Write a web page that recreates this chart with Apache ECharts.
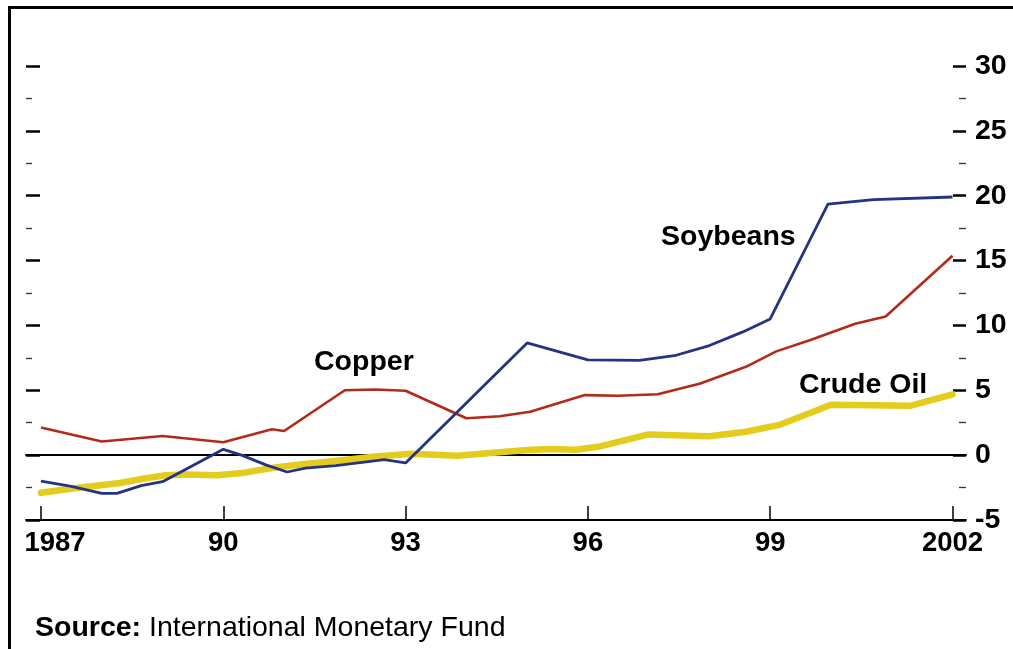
<!DOCTYPE html>
<html>
<head>
<meta charset="utf-8">
<script src="https://cdn.jsdelivr.net/npm/echarts@6/dist/echarts.min.js"></script>
<style>
  html, body { margin: 0; padding: 0; background: #ffffff; }
  #chart { width: 1013px; height: 649px; }
</style>
</head>
<body>
<div id="chart"></div>
<script>
// ---- Data ----
// [year, percent]
const copper = [
  [1987, 2.13], [1988, 1.05], [1989, 1.48], [1990, 0.99], [1990.8, 1.99], [1991, 1.86],
  [1992, 5.0], [1992.5, 5.06], [1993, 4.96], [1994, 2.84], [1994.55, 3.0], [1995.05, 3.35],
  [1995.95, 4.63], [1996.5, 4.58], [1997.15, 4.7], [1997.85, 5.53], [1998.6, 6.81],
  [1999.1, 8.0], [1999.65, 8.85], [2000.4, 10.13], [2000.9, 10.69], [2002, 15.37]
];
const soybeans = [
  [1987, -2.0], [1987.5, -2.4], [1988, -2.95], [1988.25, -2.95], [1988.65, -2.35], [1989, -2.05],
  [1990, 0.45], [1990.3, 0.0], [1990.7, -0.75], [1991.05, -1.3], [1991.35, -1.0], [1991.85, -0.8],
  [1992.65, -0.35], [1993, -0.6], [1995, 8.65], [1996, 7.35], [1996.85, 7.3], [1997.45, 7.7],
  [1998, 8.45], [1998.55, 9.5], [1999, 10.5], [1999.95, 19.35], [2000.7, 19.7], [2002, 19.9]
];
const crudeOil = [
  [1987, -2.9], [1987.55, -2.55], [1988.3, -2.15], [1988.7, -1.8], [1989.05, -1.55], [1989.4, -1.5],
  [1989.9, -1.55], [1990.35, -1.35], [1990.85, -0.95], [1991.3, -0.7], [1991.85, -0.45],
  [1992.5, -0.1], [1993.1, 0.1], [1993.85, -0.05], [1994.35, 0.15], [1995, 0.4], [1995.4, 0.48],
  [1995.8, 0.42], [1996.2, 0.67], [1997, 1.6], [1998, 1.45], [1998.6, 1.8], [1999.15, 2.33],
  [2000, 3.88], [2001.3, 3.8], [2002, 4.68]
];
const xTickLabels = {1987: '1987', 1990: '90', 1993: '93', 1996: '96', 1999: '99', 2002: '2002'};
const seriesNames = ['Copper', 'Soybeans', 'Crude Oil'];
const sourceText = 'International Monetary Fund';

const FONT = "'Liberation Sans', Arial, Helvetica, sans-serif";
const chart = echarts.init(document.getElementById('chart'), null, {renderer: 'canvas'});

const option = {
  backgroundColor: '#ffffff',
  animation: false,
  title: {
    text: '{b|Source:} ' + sourceText,
    left: 35, top: 614, padding: 0,
    textStyle: {
      fontFamily: FONT, fontSize: 28.5, fontWeight: 'normal', color: '#000',
      rich: { b: { fontFamily: FONT, fontSize: 28.5, fontWeight: 'bold', color: '#000' } }
    }
  },
  grid: [
    { left: 41, right: 60.5, top: 66, bottom: 129 },   // data grid
    { left: 26, right: 47, top: 66, bottom: 129 }      // frame grid
  ],
  xAxis: [
    {
      gridIndex: 0, type: 'value', min: 1987, max: 2002, interval: 3,
      axisLine: { show: false, onZero: false },
      axisTick: { show: true, inside: true, length: 14, lineStyle: { color: '#000', width: 1.5 } },
      splitLine: { show: false },
      axisLabel: {
        show: true, margin: 9, color: '#000', fontFamily: FONT, fontSize: 27.5, fontWeight: 'bold',
        formatter: v => v === 1987 ? '{a|' + xTickLabels[v] + '}' : (xTickLabels[v] || ''),
        rich: { a: { fontFamily: FONT, fontSize: 27.5, fontWeight: 'bold', color: '#000', padding: [0, 0, 0, 28] } }
      }
    },
    {
      gridIndex: 1, type: 'value', min: 0, max: 1, position: 'bottom',
      axisLine: { show: true, onZero: false, lineStyle: { color: '#000', width: 2 } },
      axisTick: { show: false }, axisLabel: { show: false }, splitLine: { show: false }
    },
    {
      gridIndex: 1, type: 'value', min: 0, max: 1, position: 'top',
      axisLine: { show: true, onZero: true, onZeroAxisIndex: 1, lineStyle: { color: '#000', width: 2 } },
      axisTick: { show: false }, axisLabel: { show: false }, splitLine: { show: false }
    }
  ],
  yAxis: [
    {
      gridIndex: 0, type: 'value', min: -5, max: 30, interval: 5,
      axisLine: { show: false }, axisTick: { show: false }, axisLabel: { show: false }, splitLine: { show: false }
    },
    {
      gridIndex: 1, type: 'value', min: -5, max: 30, interval: 5, position: 'left',
      axisLine: { show: false, onZero: false },
      axisTick: { show: true, inside: true, length: 14, lineStyle: { color: '#000', width: 2.5 } },
      minorTick: { show: true, splitNumber: 2, length: 6, lineStyle: { color: '#333', width: 1.3 } },
      axisLabel: { show: false }, splitLine: { show: false }
    },
    {
      gridIndex: 1, type: 'value', min: -5, max: 30, interval: 5, position: 'right',
      axisLine: { show: false, onZero: false },
      axisTick: { show: true, inside: true, length: 13, lineStyle: { color: '#000', width: 2.5 } },
      minorTick: { show: true, splitNumber: 2, length: 7, lineStyle: { color: '#333', width: 1.3 } },
      axisLabel: { show: true, inside: false, margin: 9, color: '#000', fontFamily: FONT, fontSize: 28.5, fontWeight: 'bold' },
      splitLine: { show: false }
    }
  ],
  series: [
    {
      name: seriesNames[2], type: 'line', xAxisIndex: 0, yAxisIndex: 0, data: crudeOil,
      showSymbol: false, symbol: 'none', z: 3,
      lineStyle: { color: '#e3cc1c', width: 6.5, join: 'round', cap: 'round' }
    },
    {
      name: seriesNames[0], type: 'line', xAxisIndex: 0, yAxisIndex: 0, data: copper,
      showSymbol: false, symbol: 'none', z: 4,
      lineStyle: { color: '#b42a1a', width: 2.6 }
    },
    {
      name: seriesNames[1], type: 'line', xAxisIndex: 0, yAxisIndex: 0, data: soybeans,
      showSymbol: false, symbol: 'none', z: 5,
      lineStyle: { color: '#243483', width: 2.8 }
    }
  ],
  graphic: [
    {
      type: 'polyline', silent: true, z: 10,
      shape: { points: [[9.5, 660], [9.5, 7.5], [1020, 7.5]] },
      style: { stroke: '#000', lineWidth: 3, fill: null }
    },
    {
      type: 'text', left: 314, top: 348, silent: true, z: 10,
      style: { text: seriesNames[0], fontFamily: FONT, fontSize: 28.5, fontWeight: 'bold', fill: '#000' }
    },
    {
      type: 'text', left: 661, top: 223, silent: true, z: 10,
      style: { text: seriesNames[1], fontFamily: FONT, fontSize: 28.5, fontWeight: 'bold', fill: '#000' }
    },
    {
      type: 'text', left: 799, top: 371, silent: true, z: 10,
      style: { text: seriesNames[2], fontFamily: FONT, fontSize: 28.5, fontWeight: 'bold', fill: '#000' }
    }
  ]
};
chart.setOption(option);
</script>
</body>
</html>
